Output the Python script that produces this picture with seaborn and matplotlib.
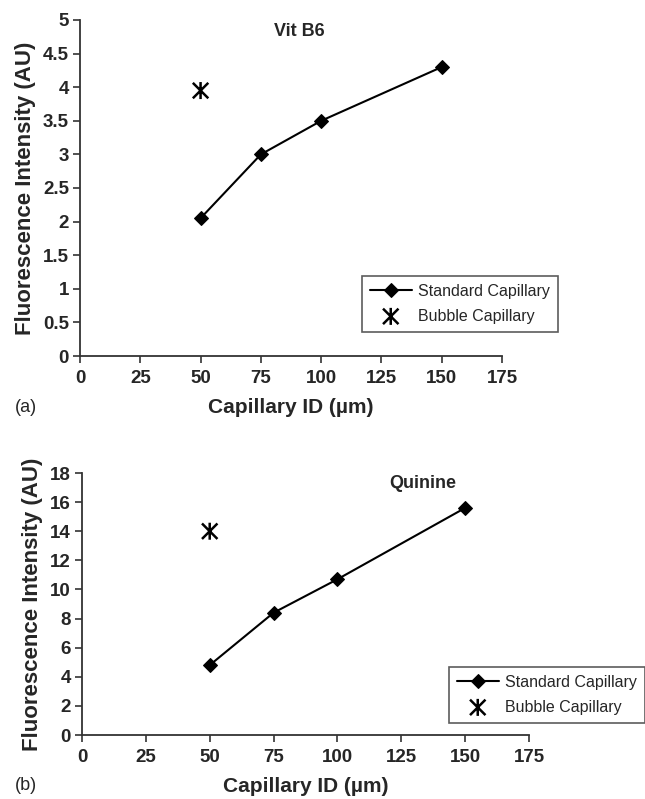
import numpy as np
import pandas as pd
import matplotlib
matplotlib.use("Agg")
import matplotlib.pyplot as plt
from matplotlib.path import Path
from matplotlib import font_manager
import seaborn as sns

# ---- data ----
cap_id = [50, 75, 100, 150]
vitb6_standard = [2.05, 3.0, 3.5, 4.3]
quinine_standard = [4.8, 8.4, 10.7, 15.6]
bubble_id = [50]
vitb6_bubble = [3.95]
quinine_bubble = [14.0]
x_ticks = [0, 25, 50, 75, 100, 125, 150, 175]
vitb6_yticks = [0, 0.5, 1, 1.5, 2, 2.5, 3, 3.5, 4, 4.5, 5]
vitb6_ylabels = ["0", "0.5", "1", "1.5", "2", "2.5", "3", "3.5", "4", "4.5", "5"]
quinine_yticks = [0, 2, 4, 6, 8, 10, 12, 14, 16, 18]

sns.set_style("ticks")
names = {f.name for f in font_manager.fontManager.ttflist}
narrow = "Liberation Sans Narrow" if "Liberation Sans Narrow" in names else "Liberation Sans"
plt.rcParams["font.family"] = [narrow, "DejaVu Sans"]

star = Path([(-1, -1), (1, 1), (-1, 1), (1, -1), (0, -1.1), (0, 1.1)],
            [Path.MOVETO, Path.LINETO, Path.MOVETO, Path.LINETO, Path.MOVETO, Path.LINETO])

fig = plt.figure(figsize=(6.45, 7.99), dpi=100)
ax1 = fig.add_axes([80/645, 1-356/799, 422/645, 336/799])
ax2 = fig.add_axes([82/645, 1-735/799, 447/645, 262/799])

def panel(ax, std, bub, yticks, ylabels, ymax, title, txy, leg_anchor, tag, tag_y):
    df = pd.DataFrame({"x": cap_id, "y": std})
    sns.lineplot(data=df, x="x", y="y", ax=ax, color="black", lw=1.5,
                 marker="D", markersize=7, markeredgecolor="black",
                 label="Standard Capillary")
    dfb = pd.DataFrame({"x": bubble_id, "y": bub})
    sns.scatterplot(data=dfb, x="x", y="y", ax=ax, marker=star, s=150,
                    facecolor="none", edgecolor="black", linewidth=1.8,
                    label="Bubble Capillary")
    ax.set_xlim(0, 175)
    ax.set_ylim(0, ymax)
    ax.set_xticks(x_ticks)
    ax.set_xticklabels([str(v) for v in x_ticks], fontsize=13.5, fontweight="bold")
    ax.set_yticks(yticks)
    ax.set_yticklabels(ylabels, fontsize=13.5, fontweight="bold")
    ax.tick_params(axis="both", length=5, width=1.2, color="#333333", pad=3)
    ax.tick_params(axis="x", pad=5)
    for s in ["top", "right"]:
        ax.spines[s].set_visible(False)
    for s in ["left", "bottom"]:
        ax.spines[s].set_color("#333333")
        ax.spines[s].set_linewidth(1.3)
    ax.set_xlabel("Capillary ID (µm)", fontsize=15, fontweight="bold", labelpad=8)
    ax.set_ylabel("Fluorescence Intensity (AU)", fontsize=16, fontweight="bold", labelpad=5)
    ax.text(txy[0], txy[1], title, fontsize=13, fontweight="bold", ha="center", va="center")
    h, l = ax.get_legend_handles_labels()
    ax.legend(h, l, loc="upper left", bbox_to_anchor=leg_anchor, bbox_transform=fig.transFigure,
              borderaxespad=0, frameon=True, fancybox=False, edgecolor="#333333", fontsize=11.5,
              borderpad=0.5, handlelength=2.6, handletextpad=0.4, labelspacing=0.6)
    ax.get_legend().get_frame().set_linewidth(1.2)
    fig.text(15/645, 1-tag_y/799, tag, fontsize=13, ha="left", va="center")

panel(ax1, vitb6_standard, vitb6_bubble, vitb6_yticks, vitb6_ylabels, 5,
      "Vit B6", (91, 4.83), (362/645, 1-276/799), "(a)", 408)
panel(ax2, quinine_standard, quinine_bubble, quinine_yticks,
      [str(v) for v in quinine_yticks], 18, "Quinine", (133.5, 17.3),
      (449/645, 1-667/799), "(b)", 786)

fig.savefig("out.png", dpi=100)
